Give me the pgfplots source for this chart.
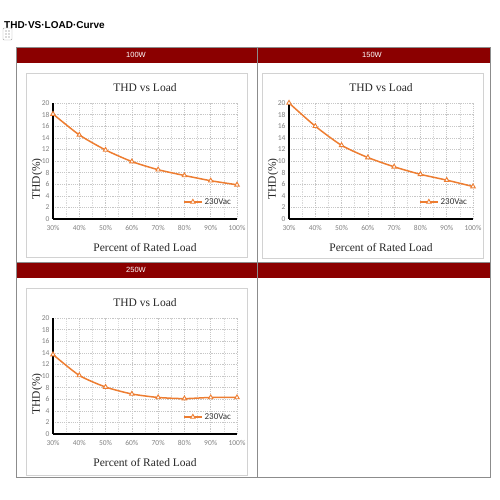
\documentclass[border=0pt]{standalone}
\usepackage{pgfplots}
\pgfplotsset{compat=1.18}
\usepackage{fontspec}
\setmainfont{Liberation Serif}
\newfontfamily\arial{Liberation Sans}
\newfontfamily\calibri{Carlito}

\definecolor{hdr}{RGB}{139,0,0}
\definecolor{xlorange}{RGB}{237,125,49}
\definecolor{ticktext}{RGB}{130,130,130}
\definecolor{chartframe}{RGB}{210,210,210}
\definecolor{tbl}{RGB}{140,140,140}

\pgfplotsset{
  thdline/.style={
    color=xlorange, line width=1.5pt, smooth, tension=0.4,
    mark=triangle*, mark size=2.6pt,
    mark options={fill=white, draw=xlorange, line width=0.9pt, solid}},
  thd/.style={
    scale only axis,
    width=184pt, height=116pt,
    xmin=0, xmax=7, ymin=0, ymax=20,
    xtick={0,...,7},
    xticklabels={30\%,40\%,50\%,60\%,70\%,80\%,90\%,100\%},
    ytick={0,2,...,20},
    minor x tick num=1,
    xmajorgrids, xminorgrids, ymajorgrids,
    major grid style={dash pattern=on 1.2pt off 1pt, black!22, line width=0.5pt},
    minor grid style={dash pattern=on 1.2pt off 1pt, black!15, line width=0.5pt},
    major tick length=0pt, minor tick length=0pt,
    axis x line*=bottom, axis y line*=left,
    axis line style={-, black, line width=1.6pt},
    /pgf/number format/assume math mode=true,
    tick label style={font=\calibri\fontsize{7.5}{8}\selectfont, text=ticktext},
    xticklabel style={yshift=-3pt},
    title={THD vs Load},
    title style={at={(axis description cs:0.5,1.078)}, anchor=center,
      font=\fontsize{11.5}{13}\selectfont, text=black!85},
    xlabel={Percent of Rated Load},
    xlabel style={at={(axis description cs:0.5,-0.25)}, anchor=center,
      font=\fontsize{11.5}{13}\selectfont, text=black!85},
    ylabel={THD(\%)},
    ylabel style={at={(axis description cs:-0.087,0.345)}, anchor=center,
      font=\fontsize{11.5}{13}\selectfont, text=black!85},
    legend style={draw=none, fill=none, at={(axis description cs:0.985,0.147)},
      anchor=east, font=\calibri\fontsize{9}{10}\selectfont, text=black!80,
      inner sep=1pt},
    legend image code/.code={
      \draw[sharp plot, mark repeat=2, mark phase=2]
        plot coordinates {(0pt,0pt) (9pt,0pt) (18pt,0pt)};},
    clip=false,
  }
}

\begin{document}
\begin{tikzpicture}[x=1pt, y=1pt]
\path[use as bounding box] (0,0) rectangle (500,500);

% document heading and table handle
\node[anchor=base west, inner sep=0pt, font=\arial\bfseries\fontsize{10}{12}\selectfont]
  at (4,471) {THD·VS·LOAD·Curve};
\draw[black!35, rounded corners=1pt, fill=white] (3,460) rectangle (12,472);
\foreach \yy in {463,466,469} {
  \fill[black!60] (6,\yy) circle (0.6);
  \fill[black!60] (9,\yy) circle (0.6);
}

% table
\fill[hdr] (16,453) rectangle (490,437);
\fill[hdr] (16,238) rectangle (490,222);
\draw[tbl, line width=0.8pt] (16,453) rectangle (490,23);
\draw[tbl, line width=0.8pt] (257,453) -- (257,23);
\draw[tbl, line width=0.8pt] (16,238) -- (490,238);
\node[text=white, font=\arial\fontsize{7.5}{9}\selectfont] at (136,445) {100W};
\node[text=white, font=\arial\fontsize{7.5}{9}\selectfont] at (372,445) {150W};
\node[text=white, font=\arial\fontsize{7.5}{9}\selectfont] at (136,230) {250W};

% chart frames
\draw[chartframe, line width=0.8pt] (26,427) rectangle (247,243);
\draw[chartframe, line width=0.8pt] (262,427) rectangle (483,242);
\draw[chartframe, line width=0.8pt] (26,212) rectangle (247,25);

% 100W
\begin{axis}[thd, at={(53pt,281pt)}, anchor=south west]
  \addplot[thdline] coordinates {(0,18.1) (1,14.5) (2,11.9) (3,9.9) (4,8.5) (5,7.5) (6,6.6) (7,5.9)};
  \addlegendentry{230Vac}
\end{axis}

% 150W
\begin{axis}[thd, at={(289pt,281pt)}, anchor=south west]
  \addplot[thdline] coordinates {(0,20.0) (1,16.0) (2,12.7) (3,10.6) (4,9.0) (5,7.7) (6,6.7) (7,5.6)};
  \addlegendentry{230Vac}
\end{axis}

% 250W
\begin{axis}[thd, at={(53pt,66pt)}, anchor=south west]
  \addplot[thdline] coordinates {(0,13.7) (1,10.1) (2,8.1) (3,6.9) (4,6.3) (5,6.1) (6,6.3) (7,6.3)};
  \addlegendentry{230Vac}
\end{axis}
\end{tikzpicture}
\end{document}
